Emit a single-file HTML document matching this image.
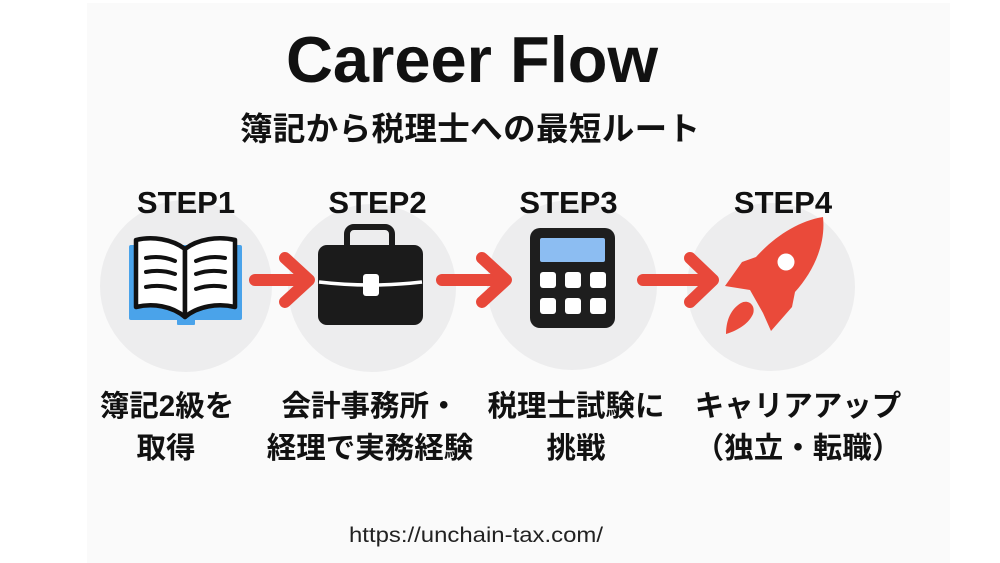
<!DOCTYPE html>
<html>
<head>
<meta charset="utf-8">
<style>
  html, body { margin: 0; padding: 0; background: #ffffff; }
  body { width: 1000px; height: 563px; overflow: hidden; }
  svg { display: block; }
  .lat { font-family: "Liberation Sans", "Noto Sans CJK JP", sans-serif; }
  .jp { font-family: "Liberation Sans", "Noto Sans CJK JP", sans-serif; }
</style>
</head>
<body>
<svg width="1000" height="563" viewBox="0 0 1000 563" xmlns="http://www.w3.org/2000/svg">
  <rect x="0" y="0" width="1000" height="563" fill="#ffffff"/>
  <rect x="87" y="3" width="863" height="560" fill="#fafafa"/>

  <!-- Title -->
  <text class="lat" x="472" y="82" font-size="65" font-weight="bold" fill="#111" text-anchor="middle">Career Flow</text>
  <text class="jp" x="240" y="140" font-size="32.5" font-weight="bold" fill="#111" textLength="460" lengthAdjust="spacing">簿記から税理士への最短ルート</text>

  <!-- Circles -->
  <circle cx="186" cy="286" r="86" fill="#ededee"/>
  <circle cx="372" cy="288" r="84" fill="#ededee"/>
  <circle cx="572" cy="285" r="85" fill="#ededee"/>
  <circle cx="771" cy="287" r="84" fill="#ededee"/>

  <!-- STEP labels -->
  <text class="lat" x="186" y="213" font-size="31" font-weight="bold" fill="#111" text-anchor="middle">STEP1</text>
  <text class="lat" x="377.5" y="213" font-size="31" font-weight="bold" fill="#111" text-anchor="middle">STEP2</text>
  <text class="lat" x="568.5" y="213" font-size="31" font-weight="bold" fill="#111" text-anchor="middle">STEP3</text>
  <text class="lat" x="783" y="213" font-size="31" font-weight="bold" fill="#111" text-anchor="middle">STEP4</text>

  <!-- Arrows -->
  <g stroke="#e8483a" stroke-width="12" stroke-linecap="round" stroke-linejoin="round" fill="none">
    <line x1="255" y1="280" x2="306" y2="280"/>
    <polyline points="285,258 309,280 285,302"/>
    <line x1="442" y1="280" x2="503" y2="280"/>
    <polyline points="482,258 506,280 482,302"/>
    <line x1="643" y1="280" x2="710" y2="280"/>
    <polyline points="690,258 713,280 690,302"/>
  </g>

  <!-- Book icon -->
  <rect x="129" y="245" width="113" height="75" rx="2" fill="#4aa3ea"/>
  <rect x="177" y="316" width="18" height="9" rx="1" fill="#4aa3ea"/>
  <g stroke="#111" stroke-width="4.5" stroke-linejoin="round" fill="#ffffff">
    <path d="M185 249 C 172 239, 152 236, 136 240 L 136 307 C 153 303, 172 306, 185 317 Z"/>
    <path d="M185 249 C 198 239, 218 236, 235 240 L 235 307 C 218 303, 198 306, 185 317 Z"/>
  </g>
  <g stroke="#111" stroke-width="4" stroke-linecap="round" fill="none">
    <path d="M146 258 Q 161 255 175 261"/>
    <path d="M146 272 Q 161 269 175 274"/>
    <path d="M146 287 Q 161 284 175 289"/>
    <path d="M196 261 Q 210 255 225 258"/>
    <path d="M196 274 Q 210 269 225 272"/>
    <path d="M196 289 Q 210 284 225 287"/>
  </g>

  <!-- Briefcase icon -->
  <rect x="347" y="227" width="45" height="28" rx="7" fill="none" stroke="#1b1b1b" stroke-width="6"/>
  <rect x="318" y="245" width="105" height="80" rx="9" fill="#1b1b1b"/>
  <path d="M319 282 Q 370 288 422 282" stroke="#ffffff" stroke-width="3.5" fill="none"/>
  <rect x="363" y="274" width="16" height="22" rx="3" fill="#ffffff"/>

  <!-- Calculator icon -->
  <rect x="530" y="228" width="85" height="100" rx="10" fill="#1e1e1e"/>
  <rect x="540" y="238" width="65" height="24" rx="2" fill="#8cbdf2"/>
  <g fill="#ffffff">
    <rect x="540" y="272" width="16" height="16" rx="3"/>
    <rect x="565" y="272" width="16" height="16" rx="3"/>
    <rect x="590" y="272" width="16" height="16" rx="3"/>
    <rect x="540" y="298" width="16" height="16" rx="3"/>
    <rect x="565" y="298" width="16" height="16" rx="3"/>
    <rect x="590" y="298" width="16" height="16" rx="3"/>
  </g>

  <!-- Rocket icon -->
  <path d="M823 217 C 826 245 813 272 795 292 L 792 307 L 771 331 L 763 313 L 750 290 L 725 286 L 742 262 L 756 257 C 774 237 798 221 823 217 Z" fill="#ea4a3a"/>
  <path d="M726 334 C 726 320 731 309 741 303 C 748 299 756 305 753 314 C 749 323 739 330 726 334 Z" fill="#ea4a3a"/>
  <circle cx="786" cy="262" r="8.5" fill="#ffffff"/>

  <!-- Bottom labels -->
  <g class="jp" font-size="29.5" font-weight="bold" fill="#111" text-anchor="middle">
    <text x="167" y="416">簿記2級を</text>
    <text x="166" y="458">取得</text>
    <text x="370" y="416">会計事務所・</text>
    <text x="370" y="458">経理で実務経験</text>
    <text x="576" y="416">税理士試験に</text>
    <text x="576" y="458">挑戦</text>
    <text x="798" y="416">キャリアアップ</text>
    <text x="798" y="458">（独立・転職）</text>
  </g>

  <!-- URL -->
  <text class="lat" x="349" y="542" font-size="21" fill="#222" textLength="254" lengthAdjust="spacingAndGlyphs">https://unchain-tax.com/</text>
</svg>
</body>
</html>
